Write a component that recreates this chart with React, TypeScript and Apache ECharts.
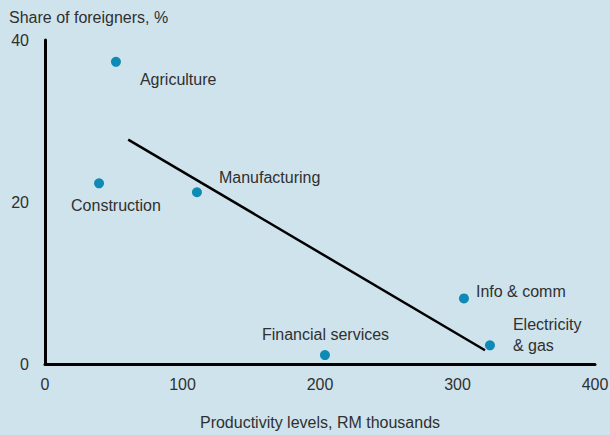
import React, { useEffect, useRef } from "react";
import * as echarts from "echarts";

const sectors = ["Agriculture", "Construction", "Manufacturing", "Financial services", "Info & comm", "Electricity\n& gas"];
const productivity = [51.6, 39.3, 110.5, 203.6, 304.7, 323.6];
const foreignShare = [37.3, 22.3, 21.2, 1.1, 8.1, 2.3];
const trendX = [60.5, 320];
const trendY = [27.7, 1.7];
const xTicks = [0, 100, 200, 300, 400];
const yTicks = [0, 20, 40];

const labelPos: [number, number][] = [
  [29, 23],
  [-23, 27],
  [27, -10],
  [-58, -16],
  [17, -2],
  [28, -5],
];

export default function App() {
  const ref = useRef<HTMLDivElement>(null);
  useEffect(() => {
    const chart = echarts.init(ref.current!, null, { renderer: "svg" });
    const font = "Liberation Sans";
    const txt = "#303030";
    const fs = 16;
    chart.setOption({
      animation: false,
      backgroundColor: "#cfe3ec",
      textStyle: { fontFamily: font },
      grid: { left: 45, right: 15, top: 40, bottom: 71, outerBoundsMode: "none", containLabel: false },
      graphic: [
        {
          type: "text",
          left: 9,
          top: 9,
          style: { text: "Share of foreigners, %", fontSize: fs, fill: txt, fontFamily: font },
        },
      ],
      xAxis: {
        type: "value",
        min: xTicks[0],
        max: xTicks[xTicks.length - 1],
        interval: 100,
        name: "Productivity levels, RM thousands",
        nameLocation: "middle",
        nameGap: 50,
        nameTextStyle: { fontSize: fs, color: txt, fontFamily: font },
        axisLine: { lineStyle: { color: "#000", width: 3 } },
        axisTick: { show: false },
        splitLine: { show: false },
        axisLabel: { fontSize: fs, color: txt, margin: 12, fontFamily: font },
      },
      yAxis: {
        type: "value",
        min: yTicks[0],
        max: yTicks[yTicks.length - 1],
        interval: 20,
        axisLine: { show: true, lineStyle: { color: "#000", width: 3 } },
        axisTick: { show: false },
        splitLine: { show: false },
        axisLabel: { fontSize: fs, color: txt, margin: 16, fontFamily: font },
      },
      series: [
        {
          type: "line",
          data: trendX.map((x, i) => [x, trendY[i]]),
          symbol: "none",
          lineStyle: { color: "#000", width: 2.5 },
          z: 2,
        },
        {
          type: "scatter",
          symbolSize: 10,
          itemStyle: { color: "#0e8ab5", opacity: 1 },
          z: 3,
          data: sectors.map((s, i) => ({
            value: [productivity[i], foreignShare[i]],
            name: s,
            label: {
              show: true,
              formatter: s,
              position: labelPos[i],
              align: "left",
              verticalAlign: "middle",
              fontSize: fs,
              color: txt,
              fontFamily: font,
              lineHeight: 21,
            },
          })),
        },
      ],
    });
    return () => chart.dispose();
  }, []);
  return <div ref={ref} style={{ width: 610, height: 435, position: "absolute", left: 0, top: 0 }} />;
}
